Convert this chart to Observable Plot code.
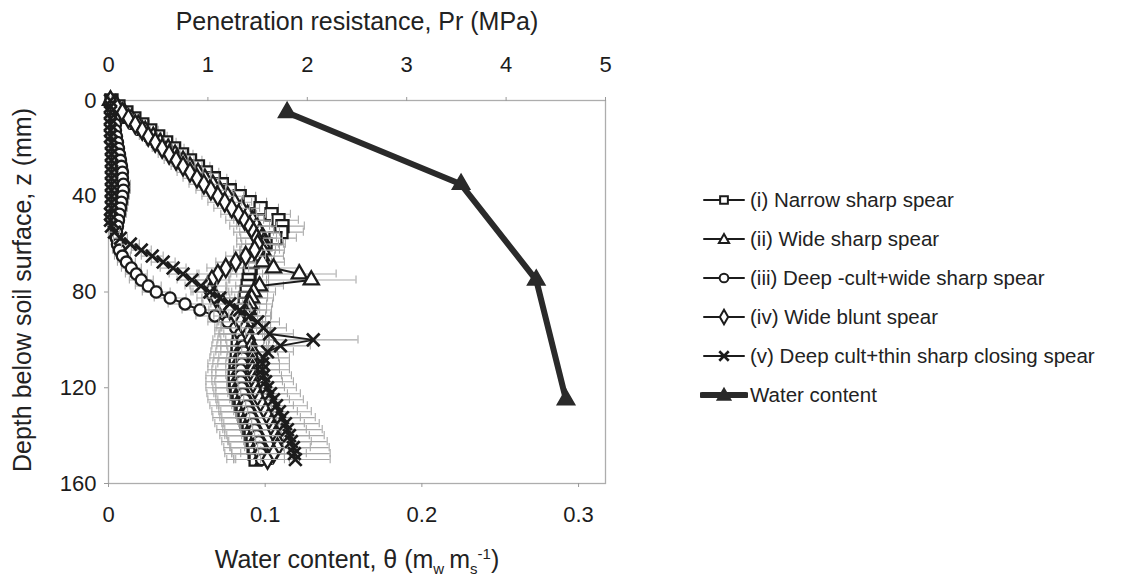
<!DOCTYPE html>
<html><head><meta charset="utf-8">
<script src="https://cdn.jsdelivr.net/npm/d3@7"></script>
<script src="https://cdn.jsdelivr.net/npm/@observablehq/plot@0.6"></script>
<style>
body{margin:0;background:#fff;font-family:"Liberation Sans",Arial,sans-serif;}
#wrap{position:relative;width:1129px;height:580px;overflow:hidden;background:#fff;}
.t{position:absolute;color:#222;font-size:25px;white-space:nowrap;line-height:1;}
.leg{position:absolute;left:700px;top:180px;}
.row{display:flex;align-items:center;height:39px;font-size:20.5px;color:#222;}
.row svg{flex:none;}
</style></head><body><div id="wrap"></div>
<script>
// ---------- data ----------
const depth = [0,2.5,5,7.5,10,12.5,15,17.5,20,22.5,
  25,27.5,30,32.5,35,37.5,40,42.5,45,47.5,
  50,52.5,55,57.5,60,62.5,65,67.5,70,72.5,
  75,77.5,80,82.5,85,87.5,90,92.5,95,97.5,
  100,102.5,105,107.5,110,112.5,115,117.5,120,122.5,
  125,127.5,130,132.5,135,137.5,140,142.5,145,147.5,
  150];

const seriesNames = ["(i) Narrow sharp spear","(ii) Wide sharp spear","(iii) Deep -cult+wide sharp spear","(iv) Wide blunt spear","(v) Deep cult+thin sharp closing spear"];
const seriesSymbols = ["square","triangle","circle","diamond","times"];

// penetration resistance (MPa)
const prI = [0.03,0.10,0.18,0.26,0.34,0.42,0.50,0.58,0.66,0.74,
  0.82,0.90,0.98,1.06,1.14,1.22,1.32,1.42,1.53,1.64,
  1.71,1.75,1.74,1.68,1.58,1.52,1.48,1.45,1.43,1.42,
  1.41,1.40,1.39,1.38,1.37,1.36,1.35,1.34,1.33,1.32,
  1.31,1.30,1.30,1.29,1.28,1.28,1.27,1.27,1.28,1.29,
  1.31,1.33,1.35,1.37,1.39,1.41,1.43,1.45,1.46,1.47,
  1.48];
const prII = [0.02,0.09,0.16,0.23,0.30,0.37,0.45,0.52,0.60,0.67,
  0.75,0.82,0.90,0.97,1.05,1.12,1.20,1.27,1.34,1.40,
  1.45,1.49,1.52,1.54,1.55,1.55,1.54,1.55,1.66,1.92,
  2.04,1.52,1.46,1.44,1.42,1.41,1.40,1.39,1.38,1.37,
  1.36,1.35,1.34,1.33,1.32,1.32,1.32,1.33,1.34,1.36,
  1.38,1.40,1.42,1.44,1.46,1.48,1.50,1.52,1.54,1.55,
  1.56];
const prIII = [0.03,0.04,0.05,0.06,0.07,0.07,0.08,0.09,0.10,0.11,
  0.12,0.13,0.14,0.14,0.15,0.15,0.14,0.13,0.12,0.11,
  0.10,0.09,0.08,0.08,0.09,0.11,0.14,0.18,0.23,0.28,
  0.33,0.40,0.48,0.62,0.77,0.92,1.07,1.20,1.28,1.33,
  1.35,1.36,1.36,1.35,1.34,1.33,1.33,1.33,1.34,1.35,
  1.37,1.39,1.41,1.43,1.45,1.47,1.49,1.51,1.52,1.53,
  1.54];
const prIV = [0.02,0.08,0.14,0.20,0.27,0.34,0.40,0.47,0.54,0.61,
  0.68,0.75,0.82,0.89,0.96,1.03,1.10,1.17,1.24,1.31,
  1.37,1.42,1.46,1.49,1.50,1.47,1.38,1.28,1.18,1.10,
  1.04,1.00,1.02,1.08,1.15,1.22,1.28,1.33,1.37,1.40,
  1.42,1.44,1.45,1.45,1.45,1.45,1.46,1.47,1.48,1.50,
  1.52,1.55,1.58,1.61,1.64,1.66,1.68,1.70,1.70,1.66,
  1.60];
const prV = [0.02,0.02,0.02,0.02,0.02,0.02,0.02,0.03,0.03,0.03,
  0.03,0.03,0.03,0.03,0.03,0.03,0.03,0.03,0.03,0.02,
  0.02,0.03,0.06,0.12,0.22,0.33,0.44,0.55,0.65,0.75,
  0.84,0.93,1.02,1.12,1.22,1.32,1.42,1.50,1.56,1.62,
  2.06,1.73,1.60,1.56,1.55,1.55,1.56,1.58,1.60,1.63,
  1.66,1.69,1.72,1.75,1.78,1.80,1.82,1.84,1.86,1.87,
  1.88];

// error bar half-widths (MPa)
const errI = [0.02,0.03,0.05,0.06,0.07,0.08,0.09,0.10,0.10,0.11,
  0.12,0.12,0.13,0.13,0.14,0.15,0.16,0.17,0.18,0.19,
  0.20,0.22,0.22,0.21,0.20,0.20,0.19,0.19,0.18,0.19,
  0.20,0.21,0.21,0.22,0.22,0.23,0.23,0.24,0.24,0.25,
  0.26,0.26,0.27,0.27,0.28,0.28,0.29,0.29,0.30,0.30,
  0.31,0.31,0.31,0.32,0.32,0.32,0.31,0.31,0.30,0.30,
  0.29];
const errII = [0.02,0.04,0.05,0.06,0.07,0.08,0.08,0.09,0.10,0.11,
  0.11,0.12,0.13,0.14,0.14,0.15,0.16,0.17,0.18,0.18,
  0.19,0.20,0.20,0.21,0.21,0.22,0.22,0.22,0.25,0.37,
  0.45,0.24,0.22,0.22,0.23,0.23,0.24,0.24,0.25,0.25,
  0.26,0.26,0.26,0.27,0.27,0.28,0.28,0.29,0.29,0.30,
  0.30,0.31,0.31,0.32,0.32,0.33,0.33,0.32,0.32,0.31,
  0.30];
const errIII = [0.02,0.02,0.03,0.03,0.04,0.04,0.04,0.05,0.05,0.05,
  0.06,0.06,0.06,0.06,0.07,0.07,0.07,0.07,0.07,0.07,
  0.06,0.06,0.06,0.06,0.06,0.07,0.08,0.09,0.10,0.11,
  0.12,0.13,0.14,0.16,0.17,0.18,0.19,0.20,0.21,0.22,
  0.22,0.23,0.23,0.24,0.24,0.25,0.25,0.26,0.26,0.27,
  0.27,0.28,0.28,0.29,0.29,0.30,0.30,0.30,0.29,0.29,
  0.28];
const errIV = [0.02,0.04,0.05,0.06,0.07,0.08,0.09,0.09,0.10,0.11,
  0.12,0.12,0.13,0.14,0.15,0.15,0.16,0.17,0.18,0.18,
  0.19,0.20,0.20,0.20,0.21,0.21,0.20,0.20,0.19,0.19,
  0.18,0.18,0.19,0.19,0.20,0.21,0.22,0.22,0.23,0.24,
  0.24,0.25,0.25,0.26,0.27,0.27,0.28,0.28,0.29,0.30,
  0.30,0.31,0.32,0.32,0.33,0.33,0.34,0.34,0.33,0.33,
  0.32];
const errV = [0.01,0.01,0.02,0.02,0.02,0.02,0.03,0.03,0.03,0.03,
  0.03,0.03,0.03,0.03,0.03,0.03,0.03,0.03,0.03,0.03,
  0.03,0.04,0.05,0.07,0.09,0.10,0.11,0.12,0.13,0.14,
  0.15,0.16,0.17,0.18,0.19,0.20,0.21,0.22,0.23,0.24,
  0.45,0.30,0.26,0.26,0.27,0.27,0.28,0.28,0.29,0.30,
  0.30,0.31,0.32,0.33,0.34,0.35,0.35,0.36,0.36,0.36,
  0.35];

// gravimetric water content (bottom axis)
const wcDepth = [5, 35, 75, 125];
const wcValue = [0.114, 0.225, 0.273, 0.292];

// axes
const prTicks = [0,1,2,3,4,5];
const wTicks = [0,0.1,0.2,0.3];
const zTicks = [0,40,80,120,160];
const prMax = 5;        // MPa at right edge of plot
const wMax = 0.3172;    // water content at right edge of plot (secondary axis)

// ---------- build ----------
const toX = w => w * prMax / wMax;   // water content -> MPa-equivalent position
const prAll = [prI, prII, prIII, prIV, prV];
const errAll = [errI, errII, errIII, errIV, errV];
const series = prAll.map((pr, s) => depth.map((z, i) => ({z, pr: pr[i], e: errAll[s][i]})));
const wc = wcDepth.map((z, i) => ({z, w: wcValue[i]}));

const ink = "#1c1c1c";
const errColor = "#a9a9a9";
const symR = {square: 6.8, triangle: 5.6, circle: 5.6, diamond: 5.6, times: 5.8};
const marks = [
  Plot.frame({stroke: "#adadad", strokeWidth: 1.3}),
  Plot.axisX({anchor: "top", ticks: prTicks, tickFormat: d => String(d), tickSize: 4, tickPadding: 25, label: null, stroke: "#999", fill: ink}),
  Plot.axisX({anchor: "bottom", ticks: wTicks.map(toX), tickFormat: d => String(+(d * wMax / prMax).toFixed(2)), tickSize: 4, tickPadding: 19, label: null, stroke: "#999", fill: ink}),
  Plot.axisY({ticks: zTicks, tickSize: 4, tickPadding: 8, label: null, stroke: "#999", fill: ink})
];
series.forEach((data, s) => {
  const sym = seriesSymbols[s];
  marks.push(
    Plot.ruleY(data, {y: "z", x1: d => d.pr - d.e, x2: d => d.pr + d.e, stroke: errColor, strokeWidth: 1.1}),
    Plot.ruleX(data, {x: d => d.pr + d.e, y1: d => d.z - 1.7, y2: d => d.z + 1.7, stroke: errColor, strokeWidth: 1.1}),
    Plot.ruleX(data, {x: d => d.pr - d.e, y1: d => d.z - 1.7, y2: d => d.z + 1.7, stroke: errColor, strokeWidth: 1.1}),
    Plot.line(data, {x: "pr", y: "z", stroke: ink, strokeWidth: 2}),
    Plot.dot(data, {x: "pr", y: "z", symbol: sym, r: symR[sym],
      fill: sym === "times" ? "none" : "white", stroke: ink, strokeWidth: sym === "times" ? 2.7 : 2.3})
  );
});
marks.push(
  Plot.line(wc, {x: d => toX(d.w), y: "z", stroke: "#2a2a2a", strokeWidth: 6}),
  Plot.dot(wc, {x: d => toX(d.w), y: "z", symbol: "triangle", r: 6.5, fill: "#2a2a2a", stroke: "#2a2a2a"})
);

const chart = Plot.plot({
  width: 1129, height: 580,
  marginLeft: 108, marginRight: 524, marginTop: 100, marginBottom: 97,
  x: {domain: [0, prMax]},
  y: {domain: [0, 160], reverse: true},
  style: {fontFamily: '"Liberation Sans", Arial, sans-serif', fontSize: "22px", color: ink, background: "white"},
  marks
});

const wrap = document.getElementById("wrap");
wrap.appendChild(chart);
chart.style.position = "absolute"; chart.style.left = "0"; chart.style.top = "0";

// titles
function addText(html, css) {
  const d = document.createElement("div");
  d.className = "t"; d.innerHTML = html; Object.assign(d.style, css); wrap.appendChild(d); return d;
}
addText("Penetration resistance, Pr (MPa)", {left: "357px", top: "9px", transform: "translateX(-50%)"});
addText('Water content, θ (m<sub style="font-size:15px">w</sub>&thinsp;m<sub style="font-size:15px">s</sub><sup style="font-size:15px">-1</sup>)', {left: "357px", top: "546px", transform: "translateX(-50%)"});
addText("Depth below soil surface, z (mm)", {left: "22px", top: "290px", transform: "translate(-50%,-50%) rotate(-90deg)"});

// legend
const leg = document.createElement("div");
leg.className = "leg";
const symMap = {square: d3.symbolSquare, triangle: d3.symbolTriangle, circle: d3.symbolCircle, diamond: d3.symbolDiamond, times: d3.symbolTimes};
const legItems = seriesNames.map((n, i) => ({name: n, sym: seriesSymbols[i], thick: false}))
  .concat([{name: "Water content", sym: "triangle", thick: true}]);
legItems.forEach(it => {
  const row = document.createElement("div");
  row.className = "row";
  const size = it.thick ? 70 : (it.sym === "triangle" ? 45 : 60);
  const path = d3.symbol().type(symMap[it.sym]).size(size)();
  const fill = it.thick ? "#2a2a2a" : (it.sym === "times" ? "none" : "white");
  row.innerHTML = `<svg width="48" height="20" viewBox="0 0 48 20">
    <line x1="${it.thick ? 2 : 4}" x2="${it.thick ? 46 : 44}" y1="10" y2="10" stroke="${it.thick ? '#2a2a2a' : ink}" stroke-width="${it.thick ? 6 : 2}" stroke-linecap="round"/>
    <path transform="translate(24,${it.sym === 'triangle' ? 11 : 10})" d="${path}" fill="${fill}" stroke="${it.thick ? '#2a2a2a' : ink}" stroke-width="${it.sym === 'times' ? 2.6 : 2}"/>
  </svg><span style="margin-left:2px">${it.name}</span>`;
  leg.appendChild(row);
});
wrap.appendChild(leg);
</script></body></html>
